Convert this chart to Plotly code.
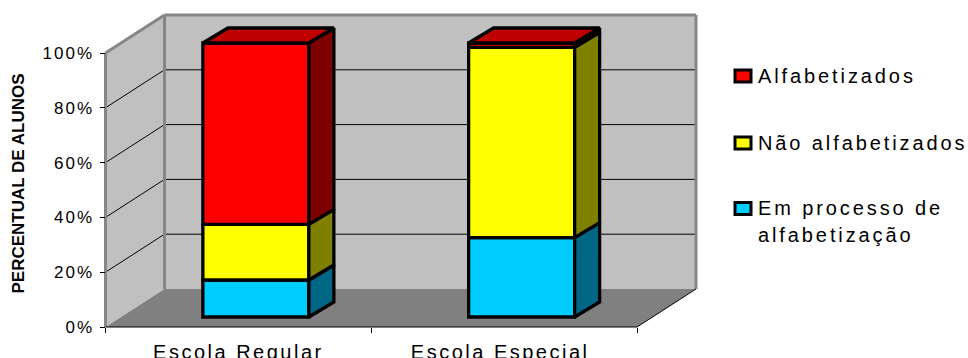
import plotly.graph_objects as go

# Chart data
CATEGORIES = ["Escola Regular", "Escola Especial"]
EM_PROCESSO = [13.5, 29.0]
NAO_ALFABETIZADOS = [20.3, 69.4]
ALFABETIZADOS = [66.2, 1.6]
Y_TICKS = [0, 20, 40, 60, 80, 100]
SERIES_NAMES = ["Em processo de alfabetização", "Não alfabetizados", "Alfabetizados"]
Y_TITLE = "PERCENTUAL DE ALUNOS"

# Series colours: front face, side face, top face
FRONT = ["#00ccff", "#ffff00", "#ff0000"]
SIDE = ["#006685", "#808000", "#7f0000"]
TOP = ["#006685", "#808000", "#c00000"]

W, H = 968, 358
X0, X1 = 105.5, 637.0   # front plane of the plot box, px
Y0, Y1 = 327.0, 53.0
WALL_DX, WALL_DY = 59.0, 38.0   # oblique offset of the back wall, px
PX_PER_X = (X1 - X0) / 2
PX_PER_Y = (Y0 - Y1) / 100
BAR_W = 106 / PX_PER_X
FRONT_DX, FRONT_DY = 17.5 / PX_PER_X, 10 / PX_PER_Y   # bar front relative to axis plane
SIDE_DX, SIDE_DY = 25 / PX_PER_X, 15 / PX_PER_Y       # bar depth
EDGE_W = 3.3
WALL_C, WALL_EDGE, FLOOR_C = "#c0c0c0", "#868686", "#808080"

# The subplot also spans the depth offset, so the bars stay inside it
X_MAX = 2 + (WALL_DX + 5) / PX_PER_X
Y_MAX = 100 + (WALL_DY + 13) / PX_PER_Y


def px(x):
    return x / W


def py(y):
    return 1 - y / H


def poly(points):
    return "M" + "L".join(f"{px(a):.5f},{py(b):.5f}" for a, b in points) + "Z"


def val_px(v):
    return Y0 - v * PX_PER_Y


def face(points, color):
    return dict(type="path", xref="paper", yref="paper", path=poly(points), fillcolor=color,
                line=dict(width=0), layer="below")


def seg(a, b, color, width):
    return dict(type="line", xref="paper", yref="paper", x0=px(a[0]), y0=py(a[1]), x1=px(b[0]), y1=py(b[1]),
                line=dict(color=color, width=width), layer="below")


BX0, BX1 = X0 + WALL_DX, X1 + WALL_DX
BY0, BY1 = Y0 - WALL_DY, Y1 - WALL_DY

shapes = [
    face([(X0, Y1), (BX0, BY1), (BX0, BY0), (X0, Y0)], WALL_C),
    face([(BX0, BY1), (BX1, BY1), (BX1, BY0), (BX0, BY0)], WALL_C),
    face([(X0, Y0), (BX0, BY0), (BX1, BY0), (X1, Y0)], FLOOR_C),
]

# Grid lines follow the value ticks across both walls
for v in Y_TICKS[1:-1]:
    y = val_px(v)
    shapes.append(seg((X0, y), (BX0, y - WALL_DY), "#000000", 1))
    shapes.append(seg((BX0, y - WALL_DY), (BX1, y - WALL_DY), "#000000", 1))

# Wall outlines and front floor edges
shapes += [
    seg((X0, Y1), (X0, Y0), WALL_EDGE, 3),
    seg((X0, Y1), (BX0, BY1), WALL_EDGE, 3),
    seg((BX0, BY1), (BX0, BY0), WALL_EDGE, 3),
    seg((BX0, BY1), (BX1, BY1), WALL_EDGE, 3),
    seg((BX1, BY1), (BX1, BY0), WALL_EDGE, 3),
    seg((X1, Y0), (BX1, BY0), "#000000", 1),
    seg((X0, Y0), (X1, Y0), "#000000", 1),
]

fig = go.Figure()
all_series = [EM_PROCESSO, NAO_ALFABETIZADOS, ALFABETIZADOS]
centers = [0.5 + i + FRONT_DX for i in range(len(CATEGORIES))]
bases = [FRONT_DY] * len(CATEGORIES)

for s, values in enumerate(all_series):
    fig.add_bar(x=centers, y=values, base=list(bases), width=BAR_W, name=SERIES_NAMES[s],
                marker=dict(color=FRONT[s], line=dict(color="#000000", width=EDGE_W)))
    for i, c in enumerate(centers):
        lo, hi = bases[i], bases[i] + values[i]
        right = c + BAR_W / 2
        # Side face of this segment
        fig.add_scatter(x=[right, right + SIDE_DX, right + SIDE_DX, right, right],
                        y=[lo, lo + SIDE_DY, hi + SIDE_DY, hi, lo],
                        mode="lines", fill="toself", fillcolor=SIDE[s],
                        line=dict(color="#000000", width=EDGE_W), hoverinfo="skip")
        # Only the last series shows its top face
        if s == len(all_series) - 1:
            left = c - BAR_W / 2
            fig.add_scatter(x=[left, left + SIDE_DX, right + SIDE_DX, right, left],
                            y=[hi, hi + SIDE_DY, hi + SIDE_DY, hi, hi],
                            mode="lines", fill="toself", fillcolor=TOP[s],
                            line=dict(color="#000000", width=EDGE_W), hoverinfo="skip")
        bases[i] = hi

# Legend
annotations = []
LEGEND = [("Alfabetizados", 76, 2), ("Não alfabetizados", 143, 1), ("Em processo de", 208.5, 0)]
for label, y, s in LEGEND:
    shapes.append(dict(type="rect", xref="paper", yref="paper", x0=px(735), x1=px(751), y0=py(y - 6), y1=py(y + 6),
                       fillcolor=FRONT[s], line=dict(color="#000000", width=3)))
    annotations.append(dict(xref="paper", yref="paper", x=px(755.5), y=py(y), xanchor="left", yanchor="middle",
                            text=label, showarrow=False, font=dict(size=20)))
annotations.append(dict(xref="paper", yref="paper", x=px(755.5), y=py(235), xanchor="left", yanchor="middle",
                        text="alfabetização", showarrow=False, font=dict(size=20)))
annotations.append(dict(xref="paper", yref="paper", x=px(18), y=py(183.5), xanchor="center", yanchor="middle",
                        text=f"<b>{Y_TITLE}</b>", textangle=-90, showarrow=False, font=dict(size=17)))

fig.update_layout(
    width=W, height=H, margin=dict(l=0, r=0, t=0, b=0, autoexpand=False), showlegend=False,
    paper_bgcolor="#ffffff", plot_bgcolor="rgba(0,0,0,0)", barmode="overlay",
    font=dict(family="Liberation Sans, Arial, sans-serif", color="#000000"),
    shapes=shapes, annotations=annotations,
    xaxis=dict(domain=[px(X0), px(X0 + X_MAX * PX_PER_X)], range=[0, X_MAX], tickvals=[0.5, 1.485], ticktext=CATEGORIES,
               ticks="", ticklen=0, showgrid=False, zeroline=False, showline=False,
               ticklabelstandoff=11, tickfont=dict(size=20),
               minor=dict(tickvals=[0, 1, 2], ticks="outside", ticklen=5, tickwidth=1, tickcolor="#000000", showgrid=False)),
    yaxis=dict(domain=[py(Y0), py(Y0 - Y_MAX * PX_PER_Y)], range=[0, Y_MAX], tickvals=Y_TICKS, ticktext=[f"{v}%" for v in Y_TICKS],
               ticks="outside", ticklen=5, tickwidth=1, tickcolor="#000000", showgrid=False, zeroline=False,
               showline=False, tickfont=dict(size=17), ticklabelstandoff=2),
)

# Widened tracking on axis and legend labels; annotations are re-anchored at their left edge first
SPACING = """
document.querySelectorAll('.xtick text').forEach(t => t.style.letterSpacing = '2.5px');
document.querySelectorAll('.ytick text').forEach(t => t.style.letterSpacing = '2px');
document.querySelectorAll('.annotation-text').forEach(t => {
  if (t.textContent.startsWith('PERCENTUAL')) return;
  const w = t.getBBox().width, x = parseFloat(t.getAttribute('x'));
  t.setAttribute('x', x - w / 2);
  t.setAttribute('text-anchor', 'start');
  t.style.textAnchor = 'start';
  t.style.letterSpacing = '2.9px';
});
"""
fig.write_html("out.html", post_script=SPACING)
